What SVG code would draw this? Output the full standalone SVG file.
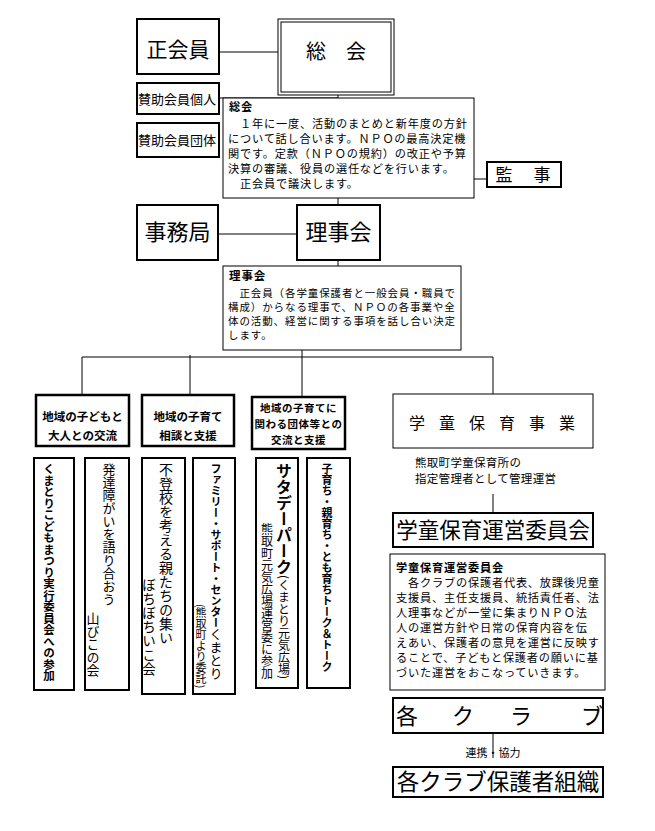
<svg xmlns="http://www.w3.org/2000/svg" width="655" height="831" viewBox="0 0 655 831">
<style>
.t{font-family:"Noto Sans CJK JP","Noto Sans CJK SC",sans-serif;fill:#000}
.b{font-weight:bold}
.box{fill:#fff;stroke:#000;stroke-width:2}
.hv{fill:#fff;stroke:#000;stroke-width:2.5}
.thin{fill:#fff;stroke:#000;stroke-width:1}
.ln{stroke:#000;stroke-width:1;fill:none}
.v{writing-mode:vertical-rl}
.m{text-anchor:middle}
</style>
<rect width="655" height="831" fill="#fff"/>
<g id="connectors">
<line class="ln" x1="219" y1="52" x2="278" y2="52"/>
<line class="ln" x1="219" y1="98" x2="338" y2="98"/>
<line class="ln" x1="338" y1="95" x2="338" y2="205"/>
<line class="ln" x1="474" y1="179" x2="487" y2="179"/>
<line class="ln" x1="218" y1="234" x2="297" y2="234"/>
<line class="ln" x1="338" y1="260" x2="338" y2="266"/>
<line class="ln" x1="82" y1="357" x2="493" y2="357"/>
<line class="ln" x1="82" y1="357" x2="82" y2="395"/>
<line class="ln" x1="190" y1="355" x2="190" y2="395"/>
<line class="ln" x1="302" y1="350" x2="302" y2="397"/>
<line class="ln" x1="493" y1="357" x2="493" y2="394"/>
<line class="ln" x1="493" y1="494" x2="493" y2="513"/>
<line class="ln" x1="493" y1="733" x2="493" y2="758"/>
</g>
<g id="seikaiin"><rect class="box" x="137" y="19" width="82" height="55"/><text class="t m" x="178" y="57" font-size="21">正会員</text></g>
<g id="soukai"><rect class="thin" x="278" y="19" width="116" height="76"/><rect class="thin" x="281" y="22" width="110" height="70"/><text class="t m" x="336" y="59" font-size="20">総　会</text></g>
<g id="sanjo-kojin"><rect class="box" x="137" y="83" width="82" height="31"/><text class="t" x="138" y="104" font-size="13">賛助会員個人</text></g>
<g id="sanjo-dantai"><rect class="box" x="137" y="123" width="82" height="34"/><text class="t" x="138" y="145" font-size="13">賛助会員団体</text></g>
<g id="soukai-desc"><rect class="thin" x="223" y="98" width="251" height="100"/>
<text class="t" font-size="11.2" letter-spacing="0.8"><tspan class="b" x="229" y="111">総会</tspan><tspan x="228" y="128">　１年に一度、活動のまとめと新年度の方針</tspan><tspan x="228" y="143">について話し合います。ＮＰＯの最高決定機</tspan><tspan x="228" y="158">関です。定款（ＮＰＯの規約）の改正や予算</tspan><tspan x="228" y="173">決算の審議、役員の選任などを行います。</tspan><tspan x="228" y="188">　正会員で議決します。</tspan></text></g>
<g id="kanji"><rect class="box" x="487" y="162" width="74" height="25"/><text class="t m" x="524" y="181" font-size="17" letter-spacing="2">監　事</text></g>
<g id="jimukyoku"><rect class="box" x="137" y="205" width="81" height="55"/><text class="t m" x="177.5" y="240" font-size="22">事務局</text></g>
<g id="rijikai"><rect class="box" x="297" y="205" width="83" height="55"/><text class="t m" x="338.5" y="240" font-size="22">理事会</text></g>
<g id="rijikai-desc"><rect class="thin" x="223" y="266" width="238" height="84"/>
<text class="t" font-size="10.5" letter-spacing="0.9"><tspan class="b" x="229" y="280" font-size="11.5">理事会</tspan><tspan x="228" y="297">　正会員（各学童保護者と一般会員・職員で</tspan><tspan x="228" y="311">構成）からなる理事で、ＮＰＯの各事業や全</tspan><tspan x="228" y="325">体の活動、経営に関する事項を話し合い決定</tspan><tspan x="228" y="339">します。</tspan></text></g>
<g id="cat1"><rect class="hv" x="36" y="395" width="93" height="51"/><text class="t b m" font-size="11.5"><tspan x="82.5" y="421">地域の子どもと</tspan><tspan x="82.5" y="440">大人との交流</tspan></text></g>
<g id="cat2"><rect class="hv" x="142" y="395" width="92" height="51"/><text class="t b m" font-size="11.5"><tspan x="188" y="421">地域の子育て</tspan><tspan x="188" y="440">相談と支援</tspan></text></g>
<g id="cat3"><rect class="hv" x="252" y="397" width="93" height="52"/><text class="t b m" font-size="10.5" letter-spacing="0.5"><tspan x="298.5" y="412">地域の子育てに</tspan><tspan x="298.5" y="428">関わる団体等との</tspan><tspan x="298.5" y="444">交流と支援</tspan></text></g>
<g id="v-kumatori"><rect class="box" x="34" y="458" width="40" height="232"/><text class="t b v" x="49" y="463" font-size="11.5">くまとりこどもまつり実行委員会への参加</text></g>
<g id="v-yamabiko"><rect class="box" x="85" y="458" width="44" height="232"/><text class="t v" x="109" y="463" font-size="13">発達障がいを語り合おう</text><text class="t v" x="93" y="612" font-size="13">山びこの会</text></g>
<g id="v-bochibochi"><rect class="box" x="142" y="458" width="43" height="236"/><text class="t v" x="166" y="463" font-size="14">不登校を考える親たちの集い</text><text class="t v" x="149" y="578" font-size="13.5" letter-spacing="0.5">ぼちぼちいこ会</text></g>
<g id="v-family"><rect class="box" x="193" y="458" width="42" height="236"/><text class="t v" x="216" y="463"><tspan class="b" font-size="11">ファミリー・サポート・センター</tspan><tspan font-size="13">くまとり</tspan></text><text class="t v" x="201" y="604" font-size="11">(熊取町より委託)</text></g>
<g id="v-saturday"><rect class="box" x="256" y="458" width="42" height="230"/><text class="t v" x="284" y="463"><tspan class="b" font-size="16">サタデーパーク</tspan><tspan font-size="12">(くまとり元気広場)</tspan></text><text class="t v" x="267" y="523" font-size="12">熊取町元気広場運営委に参加</text></g>
<g id="v-talk"><rect class="box" x="307" y="458" width="43" height="230"/><text class="t b v" x="327" y="463" font-size="11">子育ち・親育ち・とも育ちトーク＆トーク</text></g>
<g id="gakudou"><rect class="thin" x="393" y="394" width="200" height="54" stroke-width="1.5"/><text class="t" x="409" y="429" font-size="16" letter-spacing="14">学童保育事業</text></g>
<g id="shitei"><text class="t" font-size="11.5" letter-spacing="0.3"><tspan x="415" y="467">熊取町学童保育所の</tspan><tspan x="415" y="483">指定管理者として管理運営</tspan></text></g>
<g id="unei"><rect class="box" x="393" y="513" width="200" height="34"/><text class="t m" x="493" y="538" font-size="21.5">学童保育運営委員会</text></g>
<g id="unei-desc"><rect class="thin" x="390" y="554" width="215" height="136"/>
<text class="t" font-size="11.2" letter-spacing="0.8"><tspan class="b" x="396" y="572">学童保育運営委員会</tspan><tspan x="396" y="587">　各クラブの保護者代表、放課後児童</tspan><tspan x="396" y="602">支援員、主任支援員、統括責任者、法</tspan><tspan x="396" y="617">人理事などが一堂に集まりＮＰＯ法</tspan><tspan x="396" y="632">人の運営方針や日常の保育内容を伝</tspan><tspan x="396" y="647">えあい、保護者の意見を運営に反映す</tspan><tspan x="396" y="662">ることで、子どもと保護者の願いに基</tspan><tspan x="396" y="677">づいた運営をおこなっていきます。</tspan></text></g>
<g id="club"><rect class="box" x="393" y="698" width="210" height="35"/><text class="t" x="396 452 510 581" y="724" font-size="22">各クラブ</text></g>
<g id="renkei"><text class="t m" x="493" y="757" font-size="11">連携・協力</text></g>
<g id="hogosha"><rect class="box" x="393" y="767" width="210" height="30"/><text class="t m" x="498" y="790" font-size="22.5">各クラブ保護者組織</text></g>
</svg>
